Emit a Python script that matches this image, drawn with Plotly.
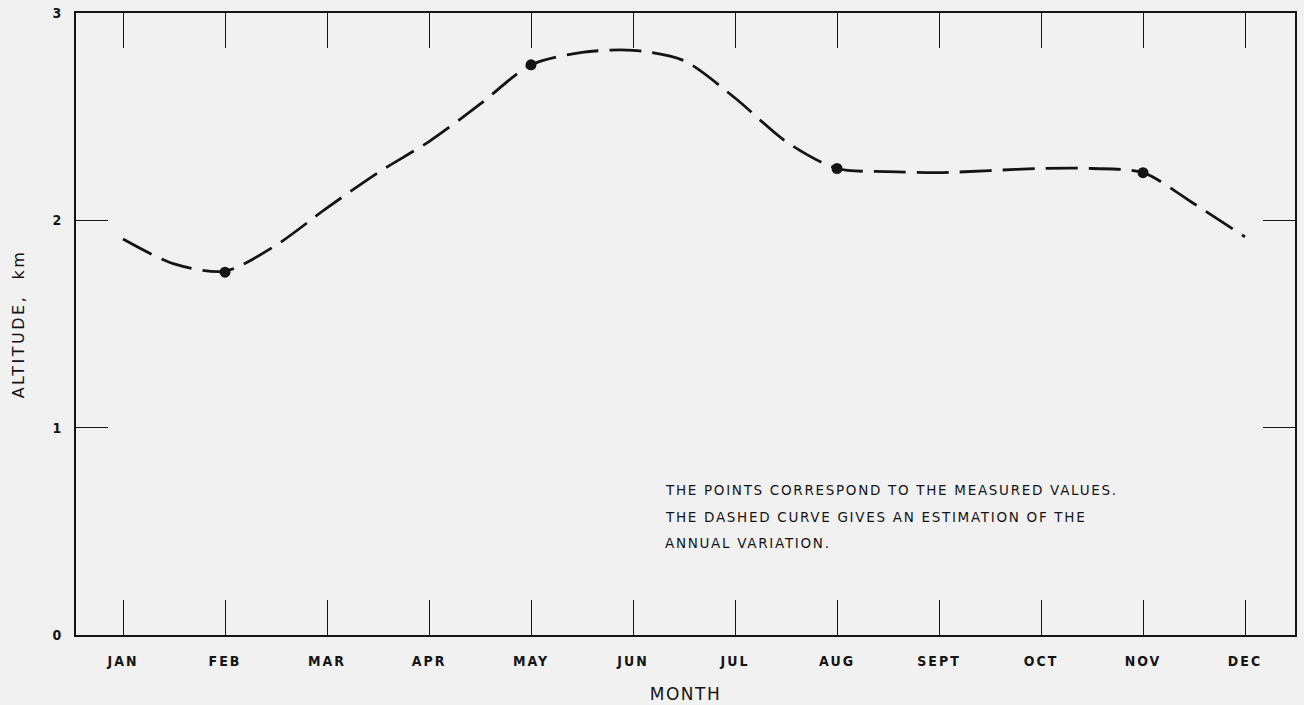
import plotly.graph_objects as go

# Month positions (0 = JAN ... 11 = DEC)
month_labels = ["JAN", "FEB", "MAR", "APR", "MAY", "JUN", "JUL", "AUG", "SEPT", "OCT", "NOV", "DEC"]
month_pos = list(range(12))

# Estimated annual variation (dashed curve)
curve_month = [0, 0.5, 1, 1.5, 2, 2.5, 3, 3.5, 4, 4.5, 5, 5.5, 6, 6.5, 7, 7.5, 8, 8.5, 9, 9.5, 10, 10.5, 11]
curve_alt = [1.91, 1.79, 1.755, 1.88, 2.06, 2.23, 2.38, 2.56, 2.75, 2.81, 2.82, 2.77, 2.59, 2.38, 2.25,
             2.235, 2.23, 2.24, 2.25, 2.25, 2.23, 2.08, 1.92]

# Measured values (points)
meas_month = [1, 4, 7, 10]
meas_alt = [1.75, 2.75, 2.25, 2.23]

y_ticks = [0, 1, 2, 3]

note_lines = [
    "THE POINTS CORRESPOND TO THE MEASURED VALUES.",
    "THE DASHED CURVE GIVES AN ESTIMATION OF THE",
    "ANNUAL VARIATION.",
]

ink = "#141414"
bg = "#f1f1f1"


def spaced(text, px):
    return f'<span style="letter-spacing:{px}px">{text}</span>'


fig = go.Figure()
fig.add_trace(go.Scatter(
    x=curve_month, y=curve_alt, mode="lines",
    line=dict(color=ink, width=2.8, dash="32px,11px", shape="spline", smoothing=0.8),
    hoverinfo="skip", showlegend=False,
))
fig.add_trace(go.Scatter(
    x=meas_month, y=meas_alt, mode="markers",
    marker=dict(color=ink, size=11),
    showlegend=False,
))

tick_font = dict(family="DejaVu Sans Condensed, Liberation Sans Narrow, Arial Narrow, sans-serif",
                 size=14, color=ink, weight="bold")

fig.update_layout(
    width=1304, height=705,
    margin=dict(l=76, r=9, t=13, b=70),
    paper_bgcolor=bg, plot_bgcolor=bg,
    xaxis=dict(
        range=[-0.461, 11.49], automargin=False,
        tickvals=month_pos, ticktext=[spaced(m, 2) for m in month_labels],
        ticks="inside", ticklen=35, tickwidth=1.3, tickcolor=ink,
        showline=True, linewidth=2, linecolor=ink, mirror="ticks",
        showgrid=False, zeroline=False,
        tickfont=tick_font, ticklabelstandoff=12,
        title=dict(text=spaced("MONTH", 1.5),
                   font=dict(family="DejaVu Sans, Arial, sans-serif", size=17, color=ink),
                   standoff=20),
    ),
    yaxis=dict(
        range=[0, 3], automargin=False,
        tickvals=y_ticks, ticktext=[str(v) for v in y_ticks],
        ticks="inside", ticklen=32, tickwidth=1.3, tickcolor=ink,
        showline=True, linewidth=2, linecolor=ink, mirror="ticks",
        showgrid=False, zeroline=False,
        tickfont=tick_font, ticklabelstandoff=10,
        title=dict(text=spaced("ALTITUDE,  km", 2.5),
                   font=dict(family="DejaVu Sans, Arial, sans-serif", size=16, color=ink),
                   standoff=24),
    ),
)

plot_w = 1304 - 76 - 9
plot_h = 705 - 13 - 70
for i, line in enumerate(note_lines):
    px = 663
    py = 490 + 26.5 * i
    fig.add_annotation(
        x=(px - 76) / plot_w, y=1 - (py - 13) / plot_h, xref="x domain", yref="y domain",
        text=spaced(line, 1.7), showarrow=False, xanchor="left", yanchor="middle",
        font=dict(family="DejaVu Sans, Arial, sans-serif", size=13.5, color=ink),
    )

fig.write_html("out.html")
